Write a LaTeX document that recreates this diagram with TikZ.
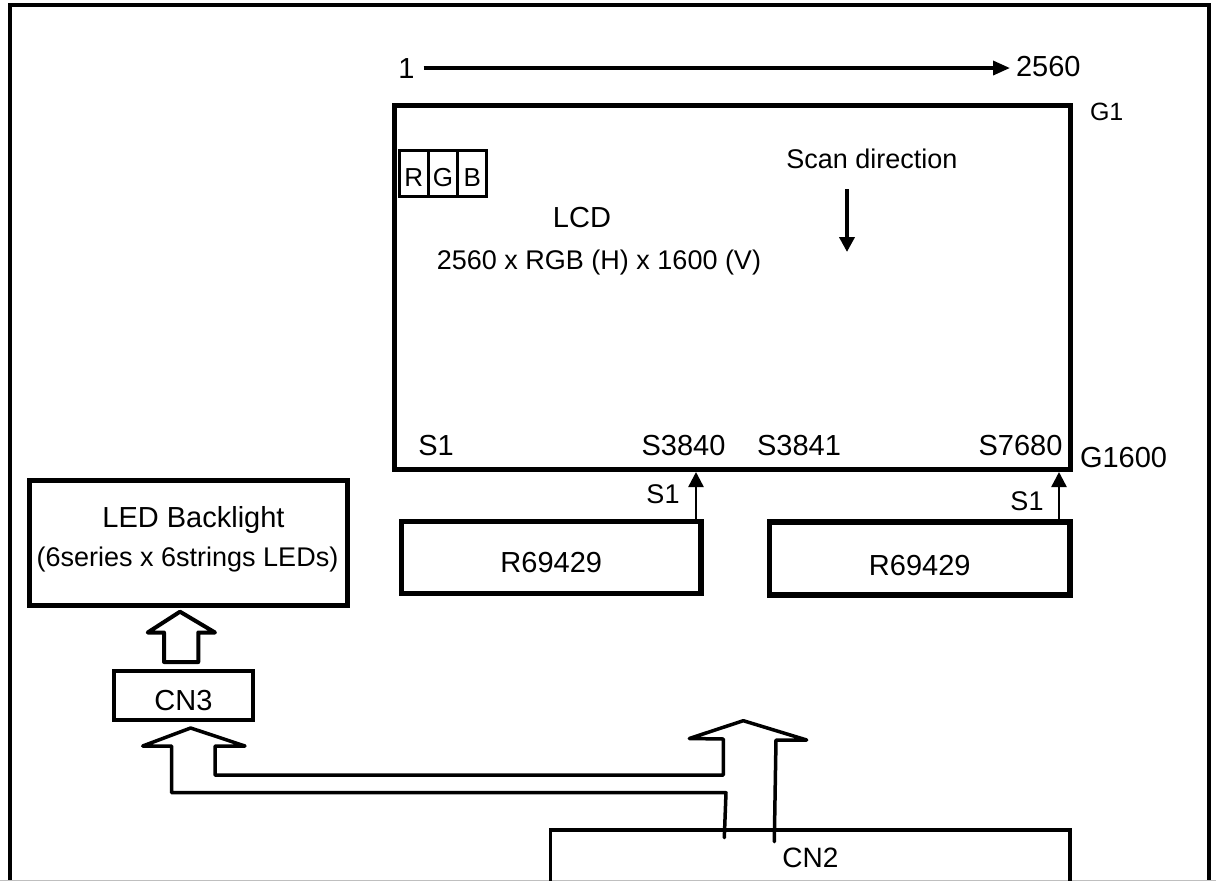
\documentclass[tikz,border=0pt]{standalone}
\usepackage{fontspec}
\setmainfont{Liberation Sans}
\usetikzlibrary{arrows.meta,positioning}

\begin{document}
\begin{tikzpicture}[x=1pt, y=-1pt,
  box/.style={draw, line width=5pt, inner sep=0pt, font=\fontsize{29}{34}\selectfont},
  lbl/.style={inner sep=0pt, outer sep=0pt, anchor=base, font=\fontsize{27}{32}\selectfont},
  biglbl/.style={lbl, font=\fontsize{29}{34}\selectfont},
  cell/.style={draw, line width=3pt, inner sep=0pt, outer sep=0pt, minimum width=29.3pt, minimum height=46pt,
    text height=27.6pt, text depth=0pt, font=\fontsize{26}{31}\selectfont},
  feed/.style={-{Triangle[length=15pt, width=15pt]}, line width=2.5pt},
  hollow/.style={line width=3.5pt, line join=round, line cap=round}]
  \useasboundingbox (0,0) rectangle (1216,881);
  \clip (0,0) rectangle (1216,881);

  \draw[line width=4pt] (9.5,890) -- (9.5,5) -- (1209,5) -- (1209,890);
  \draw[gray!50, line width=1pt] (0,880.5) -- (1216,880.5);

  \node (one) [biglbl] at (406.5,78) {1};
  \node (wide) [biglbl, anchor=base west] at (1016,76) {2560};
  \draw[-{Triangle[length=17pt, width=14pt]}, line width=3.5pt, shorten >=6pt]
    ([xshift=9pt]one.east) -- (wide.west |- one.east);

  \node (lcd) [box, minimum width=675.5pt, minimum height=364pt] at (732.25,287.5) {};
  \node (r) [cell] at (413.7,173) {R};
  \node (g) [cell, right=0pt of r] {G};
  \node (b) [cell, right=0pt of g] {B};
  \node (lcdname) [biglbl] at (582,227) {LCD};
  \node (lcdres) [lbl] at (599,269) {2560 x RGB (H) x 1600 (V)};
  \node (scan) [lbl] at (872,168) {Scan direction};
  \coordinate (scantop) at (847,189);
  \coordinate (scanbot) at (847,252);
  \draw[-{Triangle[length=15pt, width=15pt]}, line width=4pt] (scantop) -- (scanbot);

  \node (gfirst) [lbl, anchor=base west, font=\fontsize{25}{30}\selectfont] at (1090,120) {G1};
  \node (glast) [biglbl, anchor=base west] at (1080,467) {G1600};
  \node (sfirst) [biglbl] at (436,455) {S1};
  \node (shalf) [biglbl] at (683.5,455) {S3840};
  \node (snext) [biglbl] at (799,455) {S3841};
  \node (slast) [biglbl] at (1020.5,455) {S7680};

  \node (drvL) [box, line width=5.5pt, minimum width=299.5pt, minimum height=72pt,
    text height=29pt, text depth=0pt] at (551.25,557.5) {R69429};
  \node (drvR) [box, line width=5.5pt, minimum width=300.5pt, minimum height=73pt,
    text height=33.6pt, text depth=0pt] at (919.75,558.25) {R69429};
  \draw[feed] ([xshift=-7.75pt]drvL.north east) -- ([xshift=-7.75pt]drvL.north east |- lcd.south);
  \draw[feed] ([xshift=-13.75pt]drvR.north east) -- ([xshift=-13.75pt]drvR.north east |- lcd.south);
  \node (feedL) [lbl] at (663,503) {S1};
  \node (feedR) [lbl] at (1027,510) {S1};

  \node (led) [box, minimum width=318.5pt, minimum height=125.5pt] at (188.25,542.75) {};
  \node (ledname) [biglbl] at (193.5,527) {LED Backlight};
  \node (ledspec) [lbl] at (187.5,566) {(6series x 6strings LEDs)};
  \node (cnthree) [box, line width=4pt, minimum width=139pt, minimum height=49pt,
    text height=30.8pt, text depth=0pt] at (183.5,695.5) {CN3};
  \node (cntwo) [box, line width=3.5pt, minimum width=519.3pt, minimum height=55.2pt,
    font=\fontsize{28}{33}\selectfont] at (810.35,857.6) {CN2};

  \draw[hollow, line width=4pt] (164,662) -- (164,632.5) -- (147.7,632.5) -- (180,611.7)
    -- (215,632.5) -- (198.3,632.5) -- (198.3,662) -- cycle;
  \draw[hollow] (724.3,837.7) -- (726,792.7) -- (171.7,792.7) -- (171.7,746) -- (142.7,746)
    -- (190.7,728) -- (245,746) -- (215,746) -- (215,775) -- (723.3,775) -- (723.3,739)
    -- (689.3,738.5) -- (743.3,720.7) -- (806.7,740) -- (776,740) -- (774.3,841.7);
\end{tikzpicture}
\end{document}
